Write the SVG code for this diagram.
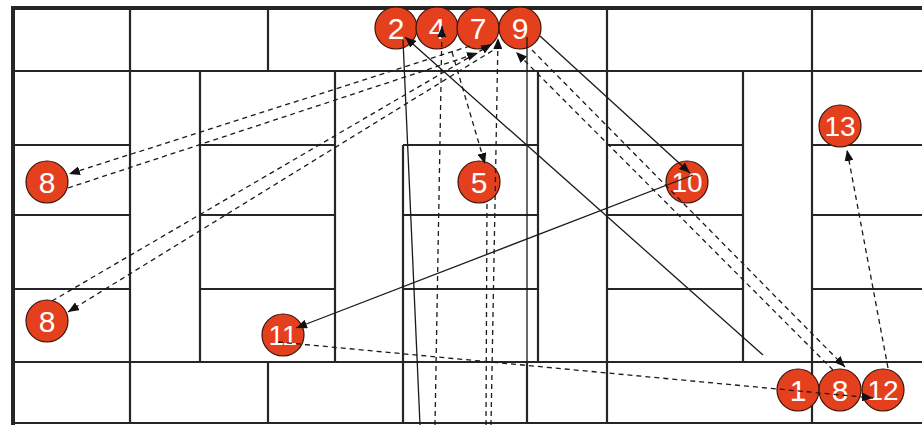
<svg xmlns="http://www.w3.org/2000/svg" width="922" height="425" viewBox="0 0 922 425">
<style>
.wall{stroke:#262626;stroke-width:2.2;fill:none}
.outer{stroke:#262626;stroke-width:4;fill:none}
.c{stroke:#1a1a1a;stroke-width:1.3;fill:none}
.d{stroke-dasharray:5 4}
.node circle{fill:#e5401d;stroke:#3a1208;stroke-width:1.2}
.node text{fill:#fff;font-family:"Liberation Sans",Arial,sans-serif;font-size:30px;text-anchor:middle}
.node text.two{font-size:28px}
</style>
<defs>
<marker id="ah" markerUnits="userSpaceOnUse" markerWidth="11" markerHeight="9" refX="11" refY="4.5" orient="auto">
<path d="M0,0 L11,4.5 L0,9 z" fill="#111"/>
</marker>
</defs>
<rect width="922" height="425" fill="#fff"/>
<g id="walls">
<path class="outer" d="M13,425 V8 H922"/>
<path class="wall" d="M13,423 H922"/>
<path class="wall" d="M13,71 H922 M13,362 H922"/>
<path class="wall" d="M13,145 H130 M200,145 H335 M403,145 H538 M607,145 H743 M812,145 H922"/>
<path class="wall" d="M13,215 H130 M200,215 H335 M403,215 H538 M607,215 H743 M812,215 H922"/>
<path class="wall" d="M13,289 H130 M200,289 H335 M403,289 H538 M607,289 H743 M812,289 H922"/>
<path class="wall" d="M130,8 V423 M268,8 V71 M268,362 V423 M200,71 V362 M335,71 V362 M403,145 V423 M527,362 V423 M538,71 V362 M607,8 V423 M743,71 V362 M812,8 V423"/>
</g>
<g id="n2" class="node"><circle cx="396" cy="28" r="21"/><text x="396" y="39">2</text></g>
<g id="n4" class="node"><circle cx="437" cy="28" r="21"/><text x="437" y="39">4</text></g>
<g id="n7" class="node"><circle cx="478" cy="28" r="21"/><text x="478" y="39">7</text></g>
<g id="n9" class="node"><circle cx="520" cy="28" r="21"/><text x="520" y="39">9</text></g>
<g id="n8a" class="node"><circle cx="47" cy="182" r="21"/><text x="47" y="193">8</text></g>
<g id="n8b" class="node"><circle cx="47" cy="321" r="21"/><text x="47" y="332">8</text></g>
<g id="n5" class="node"><circle cx="479" cy="182" r="21"/><text x="479" y="193">5</text></g>
<g id="n10" class="node"><circle cx="687" cy="182" r="21"/><text class="two" x="687" y="192">10</text></g>
<g id="n13" class="node"><circle cx="840" cy="126" r="21"/><text class="two" x="840" y="136">13</text></g>
<g id="n11" class="node"><circle cx="283" cy="335" r="21"/><text class="two" x="283" y="345">11</text></g>
<g id="n1" class="node"><circle cx="798" cy="390" r="21"/><text x="798" y="401">1</text></g>
<g id="n8c" class="node"><circle cx="840" cy="390" r="21"/><text x="840" y="401">8</text></g>
<g id="n12" class="node"><circle cx="883" cy="390" r="21"/><text class="two" x="883" y="400">12</text></g>
<g id="connectors">
<path class="c d" d="M68,188 L478,53" marker-end="url(#ah)"/>
<path class="c d" d="M470,46 L69,174" marker-end="url(#ah)"/>
<path class="c d" d="M52,301 L492,44" marker-end="url(#ah)"/>
<path class="c d" d="M500,46 L68,312" marker-end="url(#ah)"/>
<path class="c d" d="M452,52 L485,164" marker-end="url(#ah)"/>
<path class="c d" d="M435,425 L442,26" marker-end="url(#ah)"/>
<path class="c d" d="M491,425 L498,38" marker-end="url(#ah)"/>
<path class="c d" d="M486,425 L487,200"/>
<path class="c d" d="M833,370 L516,52" marker-end="url(#ah)"/>
<path class="c d" d="M532,50 L845,367" marker-end="url(#ah)"/>
<path class="c" d="M540,36 L690,173" marker-end="url(#ah)"/>
<path class="c" d="M693,175 L296,328" marker-end="url(#ah)"/>
<path class="c" d="M763,355 L405,37" marker-end="url(#ah)"/>
<path class="c" d="M420,425 L403,40"/>
<path class="c" d="M527,37 L527,362"/>
<path class="c d" d="M278,342 L873,398" marker-end="url(#ah)"/>
<path class="c d" d="M888,368 L847,150" marker-end="url(#ah)"/>
</g>
</svg>
